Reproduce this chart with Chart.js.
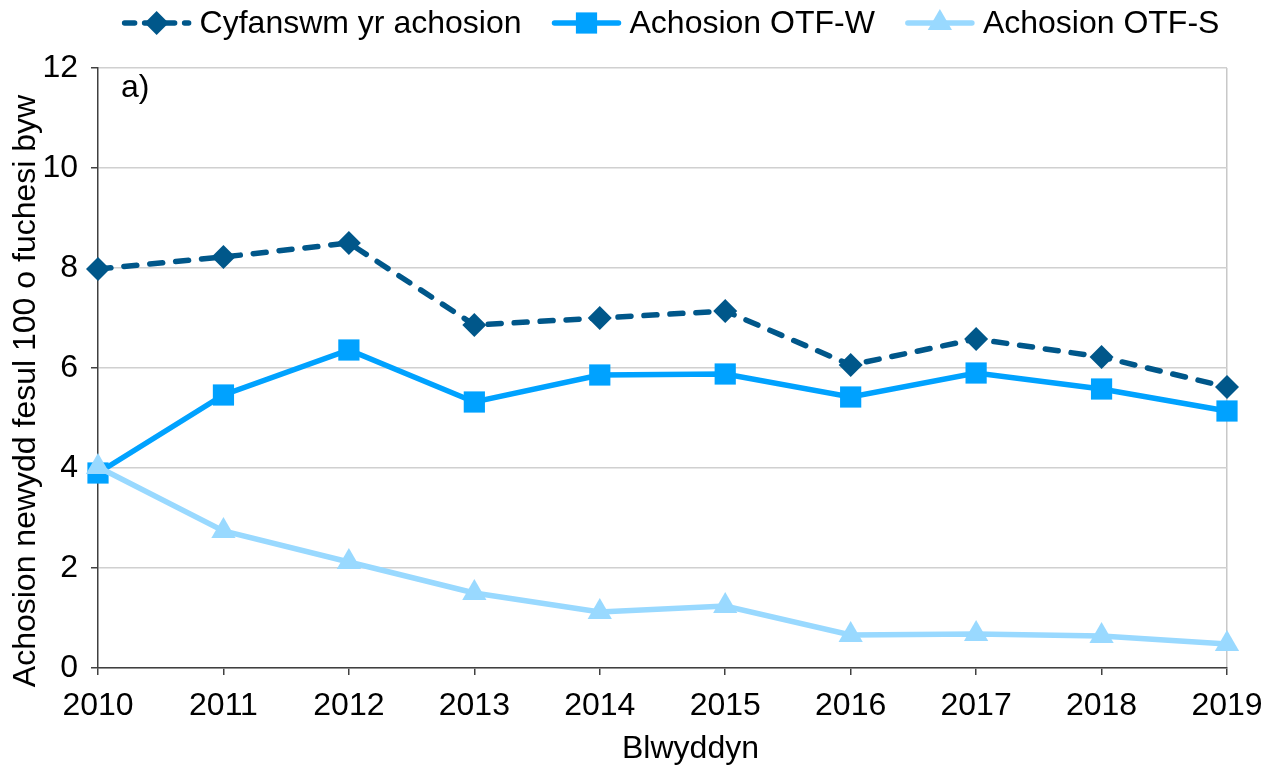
<!DOCTYPE html>
<html>
<head>
<meta charset="utf-8">
<script src="https://cdn.jsdelivr.net/npm/chart.js"></script>
<style>
  body { margin: 0; background: #fff; }
  #wrap { width: 1276px; height: 771px; }
</style>
</head>
<body>
<div id="wrap"><canvas id="canvas1" width="1276" height="771"></canvas></div>
<script>
// data
var years = ["2010", "2011", "2012", "2013", "2014", "2015", "2016", "2017", "2018", "2019"];
var totalCases = [7.98, 8.22, 8.5, 6.86, 7.0, 7.14, 6.06, 6.58, 6.22, 5.62];
var otfW = [3.9, 5.46, 6.36, 5.32, 5.86, 5.88, 5.42, 5.9, 5.58, 5.14];
var otfS = [4.02, 2.74, 2.12, 1.5, 1.12, 1.24, 0.66, 0.68, 0.64, 0.48];
var seriesNames = ["Cyfanswm yr achosion", "Achosion OTF-W", "Achosion OTF-S"];
var yTitle = "Achosion newydd fesul 100 o fuchesi byw";
var xTitle = "Blwyddyn";
var panelLabel = "a)";

var FONT = "'Liberation Sans', Arial, sans-serif";
var dark = "#00578A", mid = "#00A2FF", light = "#99D9FF";

function marker(ctx, style, x, y, r, color) {
    ctx.save();
    ctx.fillStyle = color;
    ctx.beginPath();
    if (style === "rectRot") {
        ctx.moveTo(x, y - r); ctx.lineTo(x + r, y); ctx.lineTo(x, y + r); ctx.lineTo(x - r, y);
    } else if (style === "rect") {
        var s = Math.SQRT1_2 * r;
        ctx.rect(x - s, y - s, 2 * s, 2 * s);
    } else {
        for (var i = 0; i < 3; i++) {
            var a = i * 2 * Math.PI / 3;
            ctx.lineTo(x + Math.sin(a) * r, y - Math.cos(a) * r);
        }
    }
    ctx.closePath();
    ctx.fill();
    ctx.restore();
}

var extras = {
    id: "extras",
    afterDraw: function (chart) {
        var ctx = chart.ctx, area = chart.chartArea;
        ctx.save();
        ctx.fillStyle = "#000";
        ctx.font = "32px " + FONT;
        ctx.textBaseline = "middle";

        // legend: line sample + marker + label
        var sample = 70, gap = 8, spacing = 30;
        var widths = seriesNames.map(function (n) { return ctx.measureText(n).width; });
        var total = 0;
        widths.forEach(function (w) { total += sample + gap + w; });
        total += spacing * (seriesNames.length - 1);
        var x = (area.left + area.right) / 2 + 8 - total / 2, ly = 23;
        chart.data.datasets.forEach(function (ds, i) {
            ctx.save();
            ctx.strokeStyle = ds.borderColor;
            ctx.lineWidth = ds.borderWidth;
            ctx.lineCap = "round";
            ctx.setLineDash(ds.borderDash ? [10, 10] : []);
            ctx.beginPath();
            ctx.moveTo(x + 3, ly);
            ctx.lineTo(x + sample - 3, ly);
            ctx.stroke();
            ctx.restore();
            marker(ctx, ds.pointStyle, x + sample / 2, ly, ds.pointRadius, ds.borderColor);
            ctx.textAlign = "left";
            ctx.fillText(seriesNames[i], x + sample + gap, ly + 1);
            x += sample + gap + widths[i] + spacing;
        });

        // panel label
        ctx.textAlign = "left";
        ctx.fillText(panelLabel, area.left + 23, area.top + 20);

        // axis titles
        ctx.textAlign = "center";
        ctx.fillText(xTitle, (area.left + area.right) / 2 + 28, 749);
        ctx.translate(26, (area.top + area.bottom) / 2 + 23);
        ctx.rotate(-Math.PI / 2);
        ctx.fillText(yTitle, 0, 0);
        ctx.restore();
    }
};

new Chart(document.getElementById("canvas1"), {
    type: "line",
    data: {
        labels: years,
        datasets: [{
            label: seriesNames[0],
            data: totalCases,
            borderColor: dark,
            backgroundColor: dark,
            borderWidth: 5.5,
            borderDash: [13, 13],
            borderCapStyle: "round",
            pointStyle: "rectRot",
            pointRadius: 12,
            pointBorderWidth: 0,
            order: 2
        }, {
            label: seriesNames[1],
            data: otfW,
            borderColor: mid,
            backgroundColor: mid,
            borderWidth: 5.5,
            pointStyle: "rect",
            pointRadius: 15,
            pointBorderWidth: 0,
            order: 1
        }, {
            label: seriesNames[2],
            data: otfS,
            borderColor: light,
            backgroundColor: light,
            borderWidth: 5.5,
            pointStyle: "triangle",
            pointRadius: 14,
            pointBorderWidth: 0,
            order: 0
        }]
    },
    options: {
        responsive: false,
        animation: false,
        clip: false,
        layout: { padding: { top: 68, right: 49, left: 0, bottom: 0 } },
        plugins: { legend: { display: false }, tooltip: { enabled: false } },
        elements: { line: { tension: 0 } },
        scales: {
            x: {
                type: "category",
                offset: false,
                afterFit: function (s) { s.height = 103; },
                border: { color: "#404040", width: 1.5 },
                grid: {
                    drawOnChartArea: true,
                    color: function (c) { return c.index === 9 ? "#c8c8c8" : "rgba(0,0,0,0)"; },
                    lineWidth: 1.5,
                    tickColor: "#404040",
                    tickLength: 7
                },
                ticks: {
                    color: "#000",
                    font: { family: FONT, size: 32 },
                    maxRotation: 0,
                    autoSkip: false,
                    padding: 12
                }
            },
            y: {
                min: 0,
                max: 12,
                afterFit: function (s) { s.width = 98; },
                border: { color: "#404040", width: 1.5 },
                grid: {
                    color: "#d0d0d0",
                    lineWidth: 1.5,
                    tickColor: "#404040",
                    tickLength: 7
                },
                ticks: {
                    stepSize: 2,
                    color: "#000",
                    font: { family: FONT, size: 32 },
                    padding: 13
                }
            }
        }
    },
    plugins: [extras]
});
</script>
</body>
</html>
